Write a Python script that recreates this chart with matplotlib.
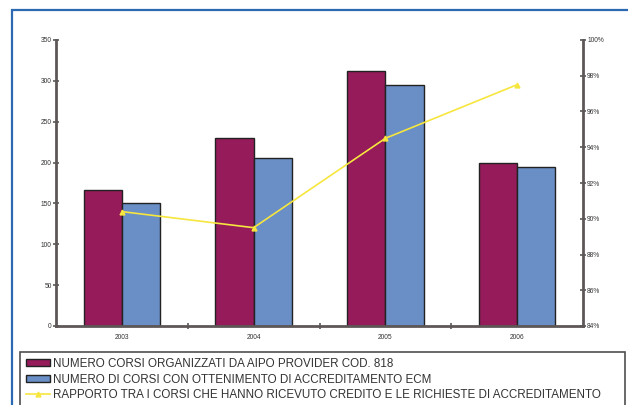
import matplotlib.pyplot as plt
from matplotlib.patches import Rectangle
from matplotlib.ticker import FuncFormatter
import numpy as np

plt.rcParams['font.family'] = ['Liberation Sans', 'DejaVu Sans']

# Dati
anni = ['2003', '2004', '2005', '2006']
corsi_organizzati = [167, 230, 312, 199]
corsi_accreditati = [151, 205, 295, 195]
rapporto = [0.904, 0.895, 0.945, 0.975]

etichette = [
    'NUMERO CORSI ORGANIZZATI DA AIPO PROVIDER COD. 818',
    'NUMERO DI CORSI CON OTTENIMENTO DI ACCREDITAMENTO ECM',
    'RAPPORTO TRA I CORSI CHE HANNO RICEVUTO CREDITO E LE RICHIESTE DI ACCREDITAMENTO',
]

COL_ORG = '#951b5b'
COL_ACC = '#6a8ec6'
COL_RAP = '#f6e63e'
COL_AXIS = '#5e5757'
COL_TEXT = '#333333'

W, H = 628, 405
fig = plt.figure(figsize=(W / 100, H / 100), dpi=100)
fig.patch.set_facecolor('white')

# cornice blu esterna
fig.patches.append(Rectangle((12 / W, -0.1), 1.0, 1 - 10 / H + 0.1,
                             transform=fig.transFigure, fill=False,
                             edgecolor='#2b69b3', lw=1.6))

ax = fig.add_axes([56 / W, 1 - 326 / H, (583 - 56) / W, (326 - 40) / H])
x = np.arange(len(anni))
bw = 0.29
b1 = ax.bar(x - bw / 2, corsi_organizzati, width=bw, color=COL_ORG,
            edgecolor='#222222', lw=1.0, label=etichette[0])
b2 = ax.bar(x + bw / 2, corsi_accreditati, width=bw, color=COL_ACC,
            edgecolor='#222222', lw=1.0, label=etichette[1])

ax.set_xlim(-0.5, len(anni) - 0.5)
ax.set_ylim(0, 350)
ax.set_yticks(np.arange(0, 351, 50))
ax.set_xticks(np.arange(0.5, len(anni) - 0.5, 1))
ax.set_xticklabels([])
for i, a in enumerate(anni):
    ax.text(i, -10, a, ha='center', va='top', fontsize=4.8, color=COL_TEXT)

ax2 = ax.twinx()
ln, = ax2.plot(x, rapporto, color=COL_RAP, lw=1.2, marker='^', markersize=3.5,
               label=etichette[2])
ax2.set_ylim(0.84, 1.0)
ax2.set_yticks(np.arange(0.84, 1.001, 0.02))
ax2.yaxis.set_major_formatter(FuncFormatter(lambda v, p: f'{v * 100:.0f}%'))

for a in (ax, ax2):
    for s in a.spines.values():
        s.set_visible(False)
ax.spines['left'].set_visible(True)
ax.spines['bottom'].set_visible(True)
ax2.spines['right'].set_visible(True)
for s in (ax.spines['left'], ax.spines['bottom'], ax2.spines['right']):
    s.set_color(COL_AXIS)
    s.set_linewidth(2.0)

ax.tick_params(axis='y', direction='inout', length=4, width=1.2, color=COL_AXIS,
               labelsize=4.8, labelcolor=COL_TEXT, pad=1)
ax.tick_params(axis='x', direction='inout', length=5, width=1.2, color=COL_AXIS)
ax2.tick_params(axis='y', direction='inout', length=4, width=1.2, color=COL_AXIS,
                labelsize=4.8, labelcolor=COL_TEXT, pad=1)

leg = fig.legend([b1, b2, ln], etichette, loc='upper left',
                 bbox_to_anchor=(20 / W, 0, 605 / W, 1 - 352 / H),
                 mode='expand', fontsize=8.4, frameon=True, fancybox=False,
                 handlelength=2.1, handleheight=0.55, handletextpad=0.25,
                 borderpad=0.5, labelspacing=0.32, borderaxespad=0)
leg.get_frame().set_edgecolor('#222222')
leg.get_frame().set_linewidth(1.2)
for t in leg.get_texts():
    t.set_color(COL_TEXT)

fig.savefig('out.png', dpi=100, facecolor='white')
